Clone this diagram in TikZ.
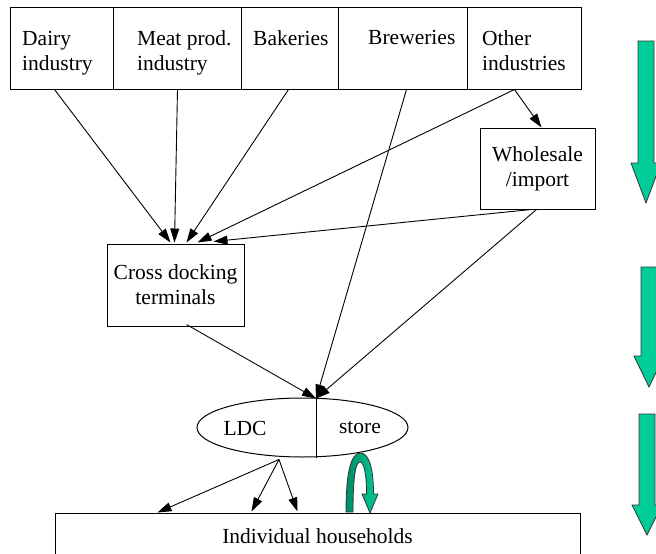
\documentclass[tikz,border=0pt]{standalone}
\usepackage{fontspec}
\setmainfont{Liberation Serif}
\usetikzlibrary{arrows.meta,calc,shapes.geometric}
\definecolor{flowgreen}{RGB}{0,204,153}
\definecolor{flowdark}{RGB}{0,140,100}
\begin{document}
\begin{tikzpicture}[x=1pt,y=-1pt,
  txt/.style={font=\fontsize{21.5}{25}\selectfont},
  cell/.style={draw,line width=1pt,rectangle,inner sep=0pt,minimum height=82pt},
  box/.style={draw,line width=1pt,rectangle,inner sep=0pt,align=center,txt},
  label/.style={inner sep=0pt,align=left,anchor=north west,txt},
  conn/.style={line width=0.9pt,-{Triangle[length=14pt,width=9pt]}},
  bigarrow/.style={fill=flowgreen,draw=black!80,line width=0.8pt,line join=miter}]
\useasboundingbox (0,0) rectangle (656,554);

% producers: one row of cells
\node[cell,minimum width=103pt] (dairy) at (61.5,48) {};
\node[cell,minimum width=128pt] (meat) at (177,48) {};
\node[cell,minimum width=97pt] (bak) at (289.5,48) {};
\node[cell,minimum width=129pt] (brew) at (402.5,48) {};
\node[cell,minimum width=114pt] (oth) at (524,48) {};
\node[label] (dairyT) at (22,31) {Dairy\\industry};
\node[label] (meatT) at (137,30.5) {Meat prod.\\industry};
\node[label] (bakT) at (253,30.5) {Bakeries};
\node[label] (brewT) at (368,30.5) {Breweries};
\node[label] (othT) at (482,30.5) {Other\\industries};

% intermediate stages
\node[box,minimum width=115pt,minimum height=81pt] (ws) at (537.5,168.5) {Wholesale\\/import};
\node[box,minimum width=137pt,minimum height=82pt] (cd) at (175.5,285) {Cross docking\\terminals};

% LDC / store ellipse
\node[draw,line width=1pt,ellipse,inner sep=0pt,minimum width=211pt,minimum height=59pt] (ell) at (302.5,427.5) {};
\draw[line width=1pt] ($(ell.north)+(13.5,0)$) -- ($(ell.south)+(13.5,0)$);
\node[txt,inner sep=0pt] (ldc) at (245,428) {LDC};
\node[txt,inner sep=0pt] (store) at (360,428) {store};

% households
\node[box,minimum width=525pt,minimum height=47pt] (hh) at (317.5,536.5) {Individual households};

% flows into the cross docking terminals
\draw[conn] ($(dairy.south west)+(45,0)$) -- ($(cd.north west)+(64,-1)$);
\draw[conn] ($(meat.south west)+(65,0)$) -- ($(cd.north west)+(68,-1)$);
\draw[conn] ($(bak.south west)+(48,0)$) -- ($(cd.north west)+(80,-1)$);
\draw[conn] ($(oth.south west)+(48,0)$) -- ($(cd.north west)+(91,-1)$);
\draw[conn] ($(oth.south west)+(48,0)$) -- ($(ws.north west)+(62,0)$);
\draw[conn] ($(ws.south west)+(52,0)$) -- ($(cd.north west)+(107,-2)$);

% flows into the LDC
\draw[conn] ($(brew.south west)+(69,0)$) -- ($(ell.north)+(13.5,1)$);
\draw[conn] ($(ws.south west)+(57,0)$) -- ($(ell.north)+(13.5,1)$);
\draw[conn] ($(cd.south west)+(80,-2)$) -- ($(ell.north)+(13.5,1)$);

% deliveries to households
\draw[conn] ($(ell.south)+(-23.5,2)$) -- ($(hh.north west)+(103,0)$);
\draw[conn] ($(ell.south)+(-23.5,2)$) -- ($(hh.north west)+(197,-1)$);
\draw[conn] ($(ell.south)+(-23.5,2)$) -- ($(hh.north west)+(243,-1)$);

% round trip between households and store
\shade[left color=flowdark,right color=flowgreen,draw=black!80,line width=0.8pt]
  (346,512) .. controls (346,472) and (351,453) .. (360.5,453)
  .. controls (370,453) and (373.5,472) .. (373.5,494)
  -- (378,494) -- (370,513) -- (362,494) -- (366.5,494)
  .. controls (366.5,474) and (364,462) .. (360,462)
  .. controls (356,462) and (353,474) .. (353,512) -- cycle;

% stage arrows on the right
\draw[bigarrow] (638,41) -- (654,41) -- (654,163) -- (661,163) -- (646,203)
  -- (631,163) -- (638,163) -- cycle;
\draw[bigarrow] (641,267) -- (657,267) -- (657,356) -- (664,356) -- (649,387)
  -- (634,356) -- (641,356) -- cycle;
\draw[bigarrow] (639,414) -- (655,414) -- (655,505) -- (662,505) -- (647,535)
  -- (632,505) -- (639,505) -- cycle;
\end{tikzpicture}
\end{document}
